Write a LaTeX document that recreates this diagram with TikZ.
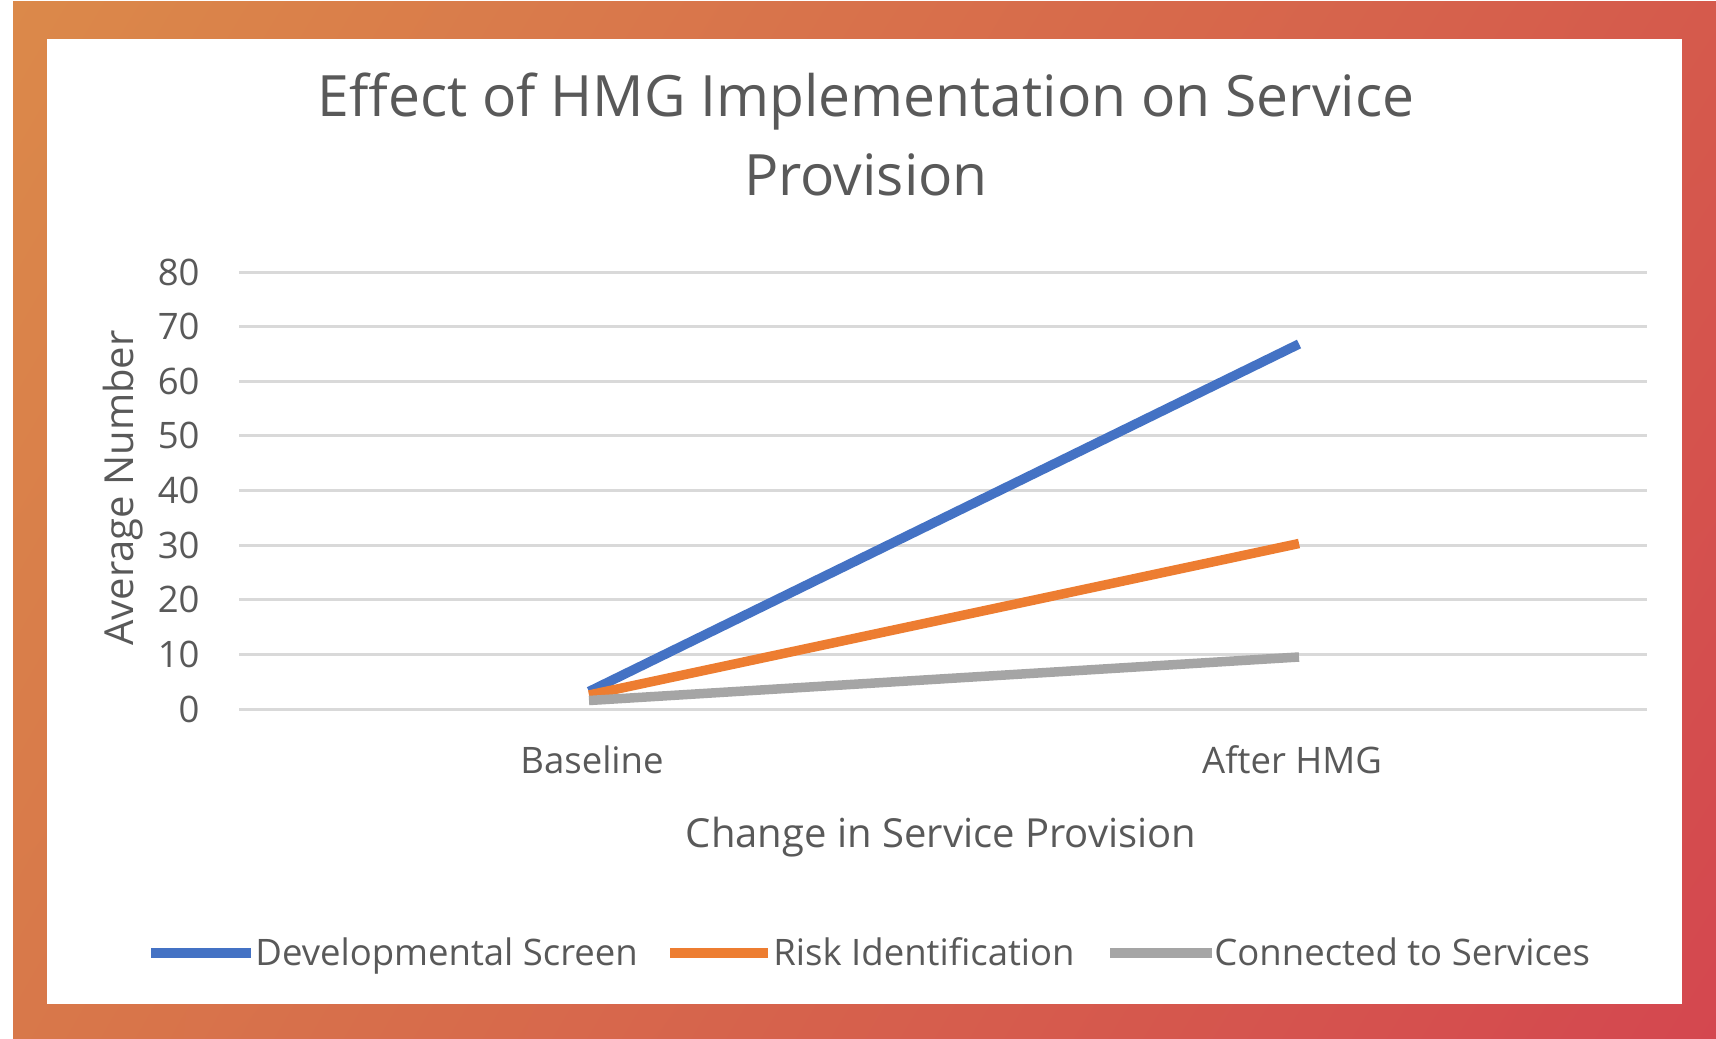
\documentclass[tikz,border=0pt]{standalone}
\usepackage{fontspec}
\setmainfont{Open Sans}
\usetikzlibrary{shadings}
\definecolor{txt}{HTML}{595959}
\definecolor{gridc}{HTML}{D9D9D9}
\definecolor{sblue}{HTML}{4472C4}
\definecolor{sorange}{HTML}{ED7D31}
\definecolor{sgray}{HTML}{A5A5A5}
\definecolor{fUL}{HTML}{DB894A}
\definecolor{fUR}{HTML}{D55A4C}
\definecolor{fLL}{HTML}{D8784A}
\definecolor{fLR}{HTML}{D4474F}
\begin{document}
\begin{tikzpicture}[x=0.5pt,y=-0.5pt,
  titletext/.style={text=txt,inner sep=0pt,font=\fontsize{28.5pt}{34pt}\selectfont},
  ticktext/.style={text=txt,inner sep=0pt,font=\fontsize{18.25pt}{22pt}\selectfont},
  axistitle/.style={text=txt,inner sep=0pt,font=\fontsize{20pt}{24pt}\selectfont},
  legtext/.style={text=txt,inner sep=0pt,font=\fontsize{18.25pt}{22pt}\selectfont},
  gridline/.style={draw=gridc,line width=1.5pt},
  series/.style={line width=4.75pt}]
\useasboundingbox (0,0) rectangle (1716,1038);
\fill[white] (0,0) rectangle (1716,1038);
\shade[upper left=fUL,upper right=fUR,lower left=fLL,lower right=fLR] (13,2) rectangle (1716,1038);
\fill[white] (47,39) rectangle (1682,1004);
% title
\node[titletext,anchor=base] (t1) at (866,117) {Effect of HMG Implementation on Service};
\node[titletext,anchor=base] (t2) at (866,195) {Provision};
% grid and ticks
\foreach \v in {0,10,...,80}{
  \pgfmathsetmacro{\yy}{709-5.4625*\v}
  \coordinate (gl\v) at (239,\yy);
  \coordinate (gr\v) at (1647,\yy);
  \draw[gridline] (gl\v) -- (gr\v);
  \node[ticktext,anchor=east] (yl\v) at (200,\yy) {\v};
}
% axis titles
\node[axistitle,rotate=90] (ytitle) at (123,488) {Average Number};
\node[axistitle,anchor=base] (xtitle) at (941,847) {Change in Service Provision};
% category labels
\node[ticktext,anchor=base] (c1) at (592,773) {Baseline};
\node[ticktext,anchor=base] (c2) at (1292,773) {After HMG};
% data
\coordinate (b1) at (589,691.5);
\coordinate (b2) at (1299,344);
\coordinate (o1) at (589,695);
\coordinate (o2) at (1299,543.5);
\coordinate (g1) at (589,700.5);
\coordinate (g2) at (1299,657);
\draw[series,sblue] (b1) -- (b2);
\draw[series,sorange] (o1) -- (o2);
\draw[series,sgray] (g1) -- (g2);
% legend
\coordinate (lb1) at (151,953);
\coordinate (lb2) at (251,953);
\coordinate (lo1) at (670,953);
\coordinate (lo2) at (768,953);
\coordinate (lg1) at (1110,953);
\coordinate (lg2) at (1212,953);
\draw[series,sblue] (lb1) -- (lb2);
\draw[series,sorange] (lo1) -- (lo2);
\draw[series,sgray] (lg1) -- (lg2);
\node[legtext,anchor=base west] (lt1) at (255,965) {Developmental Screen};
\node[legtext,anchor=base west] (lt2) at (773,965) {Risk Identification};
\node[legtext,anchor=base west] (lt3) at (1214,965) {Connected to Services};
\end{tikzpicture}
\end{document}
